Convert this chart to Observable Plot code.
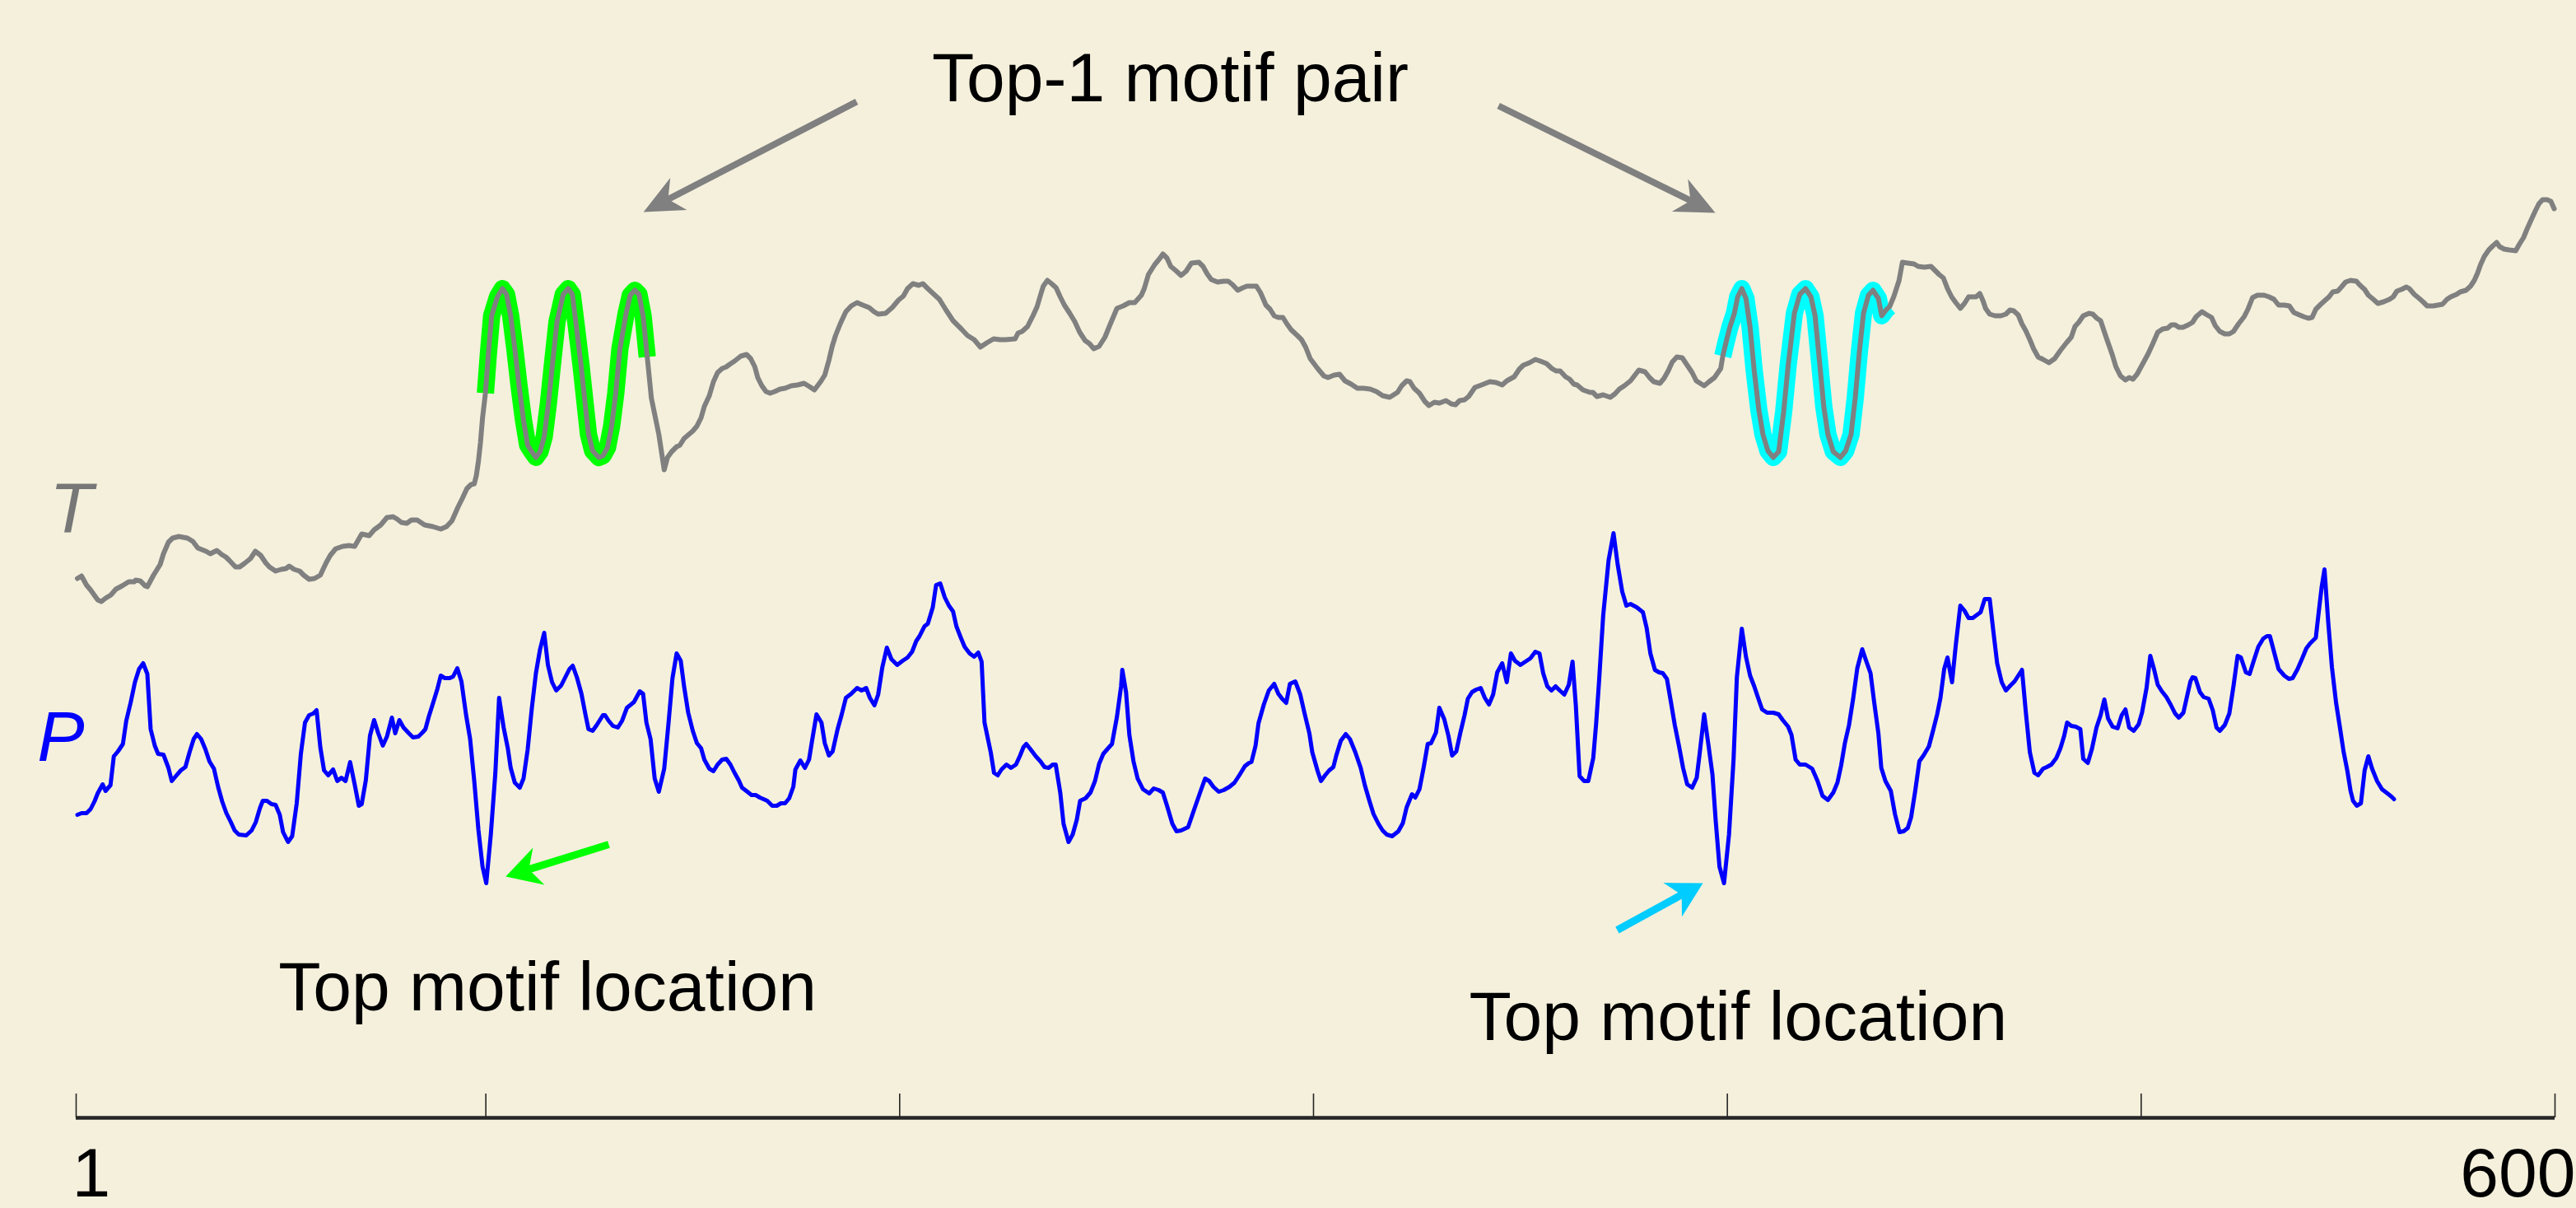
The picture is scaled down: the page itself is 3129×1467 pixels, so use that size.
<!DOCTYPE html>
<html>
<head>
<meta charset="utf-8">
<script src="https://cdn.jsdelivr.net/npm/d3@7"></script>
<script src="https://cdn.jsdelivr.net/npm/@observablehq/plot@0.6"></script>
<style>
  html, body { margin: 0; padding: 0; background: #f4f0dc; overflow: hidden; }
  #chart svg { display: block; }
</style>
</head>
<body>
<div id="chart"></div>
<script>
// ---------- data (index along the series, value) ----------
const tSeries = [
[1.3,6.55],[2.3,6.58],[3.5,6.47],[4.5,6.41],[6.2,6.29],[7.1,6.27],[8.1,6.31],[9.4,6.35],[10.6,6.42],[12.1,6.46],
[13.7,6.51],[15.0,6.51],[15.4,6.53],[16.5,6.52],[17.7,6.46],[18.2,6.45],[19.7,6.59],[21.3,6.72],[22.1,6.85],[23.3,6.99],
[24.3,7.04],[25.8,7.06],[27.9,7.04],[29.2,7.00],[30.4,6.92],[32.4,6.88],[33.4,6.85],[35.0,6.89],[36.2,6.84],[37.2,6.81],
[38.0,6.77],[39.5,6.69],[40.5,6.69],[41.6,6.73],[43.1,6.79],[44.3,6.88],[45.6,6.83],[46.8,6.74],[47.7,6.69],[49.2,6.64],
[50.5,6.66],[51.7,6.67],[52.5,6.70],[53.7,6.66],[55.0,6.64],[56.0,6.59],[57.3,6.54],[58.6,6.55],[60.0,6.59],[61.4,6.74],
[62.4,6.83],[63.7,6.91],[65.4,6.94],[66.9,6.95],[68.3,6.94],[70.0,7.09],[71.8,7.07],[73.0,7.14],[74.6,7.20],[76.1,7.29],
[77.6,7.30],[78.6,7.27],[79.6,7.23],[80.9,7.22],[82.0,7.26],[83.4,7.26],[85.2,7.20],[87.2,7.18],[89.1,7.15],[90.5,7.18],
[91.8,7.25],[93.3,7.42],[94.3,7.52],[95.4,7.64],[96.4,7.69],[97.2,7.70],[97.7,7.80],[98.2,7.97],[98.7,8.20],[99.2,8.50],
[99.9,8.80],[100.6,9.27],[101.4,9.74],[102.8,9.97],[104.0,10.07],[105.0,10.00],[106.0,9.74],[107.0,9.34],[108.0,8.90],[109.1,8.47],
[110.1,8.17],[111.1,8.09],[112.1,8.02],[113.1,8.09],[114.1,8.27],[115.1,8.67],[116.2,9.20],[117.2,9.67],[118.7,10.00],[119.9,10.07],
[120.9,10.00],[121.9,9.60],[123.0,9.14],[124.0,8.67],[124.8,8.30],[125.8,8.10],[127.3,8.02],[128.3,8.04],[129.4,8.14],[130.4,8.40],
[131.4,8.80],[132.4,9.34],[133.9,9.77],[134.9,9.99],[136.0,10.05],[137.0,10.00],[138.0,9.74],[139.0,9.24],[140.0,8.74],[141.8,8.30],
[143.1,7.87],[143.9,8.02],[144.9,8.09],[146.1,8.15],[146.9,8.17],[147.9,8.25],[150.0,8.34],[151.0,8.40],[152.0,8.50],[152.8,8.64],
[154.0,8.77],[155.0,8.94],[156.0,9.05],[157.1,9.10],[158.1,9.12],[158.9,9.15],[160.1,9.19],[161.6,9.25],[163.0,9.27],[164.0,9.22],
[165.0,9.12],[165.7,8.99],[166.7,8.89],[167.7,8.82],[168.7,8.80],[169.8,8.82],[171.1,8.85],[172.3,8.86],[173.8,8.89],[175.3,8.90],
[176.9,8.92],[178.2,8.88],[179.4,8.84],[180.9,8.94],[181.9,9.02],[182.9,9.20],[183.7,9.37],[184.5,9.50],[185.7,9.65],[187.0,9.79],
[188.3,9.86],[189.7,9.90],[191.1,9.87],[192.6,9.84],[193.8,9.79],[194.8,9.76],[196.6,9.77],[198.2,9.84],[199.7,9.93],[200.9,9.98],
[201.9,10.07],[203.2,10.13],[204.6,10.11],[205.6,10.13],[206.8,10.07],[208.3,10.00],[209.6,9.94],[211.2,9.81],[212.9,9.68],[214.9,9.58],
[216.4,9.50],[218.0,9.45],[219.5,9.36],[221.0,9.41],[222.7,9.46],[224.3,9.45],[225.6,9.45],[227.9,9.46],[228.6,9.53],[229.6,9.55],
[230.9,9.61],[232.2,9.74],[233.2,9.85],[234.2,10.02],[234.7,10.10],[235.7,10.17],[236.7,10.13],[237.8,10.08],[238.8,9.97],[239.8,9.87],
[241.1,9.77],[242.3,9.67],[243.5,9.54],[244.8,9.44],[245.9,9.40],[246.9,9.34],[248.2,9.37],[249.6,9.48],[250.9,9.64],[252.5,9.83],
[254.0,9.86],[255.5,9.90],[256.8,9.90],[258.4,9.99],[259.1,10.07],[260.1,10.24],[261.6,10.36],[262.9,10.44],[263.6,10.49],[264.6,10.44],
[265.5,10.34],[266.7,10.29],[268.0,10.23],[269.2,10.28],[270.5,10.38],[272.3,10.39],[273.3,10.34],[274.3,10.25],[275.3,10.18],[276.8,10.15],
[278.3,10.16],[279.4,10.16],[280.4,10.12],[281.7,10.05],[282.9,10.08],[283.9,10.10],[285.1,10.10],[286.2,10.10],[287.2,10.02],[288.5,9.87],
[289.5,9.82],[290.5,9.74],[291.5,9.72],[292.6,9.72],[293.6,9.64],[294.6,9.57],[296.1,9.50],[297.1,9.45],[298.1,9.36],[299.2,9.22],
[301.0,9.10],[302.5,9.01],[303.5,8.99],[305.0,9.02],[306.3,9.03],[307.6,8.95],[309.1,8.91],[310.6,8.86],[312.1,8.86],[313.7,8.85],
[315.2,8.82],[316.7,8.77],[318.4,8.75],[320.3,8.81],[321.3,8.89],[322.5,8.95],[323.3,8.94],[324.3,8.86],[325.6,8.80],[326.9,8.70],
[327.9,8.65],[329.2,8.69],[330.4,8.68],[332.0,8.71],[333.3,8.67],[334.3,8.66],[335.3,8.71],[336.5,8.72],[337.5,8.76],[339.0,8.87],
[340.6,8.90],[342.6,8.94],[344.1,8.93],[345.6,8.90],[346.7,8.95],[348.5,9.00],[349.7,9.09],[350.7,9.14],[352.2,9.17],[353.6,9.21],
[354.8,9.19],[356.3,9.16],[357.6,9.10],[358.6,9.07],[359.6,9.07],[360.9,9.00],[361.9,8.97],[362.9,8.91],[363.7,8.90],[365.1,8.84],
[366.8,8.81],[367.5,8.81],[368.5,8.76],[370.0,8.78],[371.7,8.75],[372.8,8.79],[373.9,8.85],[375.1,8.89],[376.6,8.95],[378.6,9.08],
[380.1,9.06],[381.2,8.99],[382.2,8.94],[383.7,8.92],[384.7,8.98],[385.7,9.07],[386.7,9.18],[387.8,9.24],[389.1,9.23],[390.3,9.14],
[391.5,9.05],[392.5,8.95],[394.4,8.89],[395.6,8.94],[396.9,8.99],[398.4,9.10],[398.9,9.25],[399.6,9.40],[400.6,9.60],[401.7,9.77],
[402.5,9.97],[403.5,10.07],[404.5,9.95],[405.5,9.60],[406.5,9.07],[407.6,8.60],[408.6,8.30],[409.8,8.10],[411.1,8.02],[412.4,8.09],
[413.6,8.57],[414.7,9.14],[416.2,9.77],[417.5,10.00],[418.9,10.07],[420.2,9.97],[421.2,9.74],[422.3,9.17],[423.3,8.64],[424.3,8.30],
[425.6,8.09],[427.3,8.02],[428.6,8.10],[429.9,8.30],[430.9,8.74],[431.9,9.30],[432.9,9.77],[434.1,9.99],[435.2,10.05],[436.5,9.95],
[437.3,9.74],[438.5,9.82],[439.2,9.85],[440.2,9.97],[441.5,10.17],[442.3,10.39],[443.6,10.38],[445.1,10.37],[446.1,10.34],[447.6,10.33],
[449.2,10.34],[450.2,10.29],[451.2,10.24],[452.2,10.20],[453.2,10.07],[454.2,9.97],[455.2,9.90],[456.3,9.83],[457.3,9.89],[458.3,9.97],
[460.1,9.97],[461.0,10.01],[461.8,9.92],[462.4,9.83],[463.4,9.76],[464.7,9.74],[466.1,9.74],[467.3,9.76],[468.3,9.81],[469.2,9.80],
[470.3,9.75],[471.2,9.64],[472.1,9.56],[473.1,9.45],[474.0,9.34],[475.1,9.24],[476.3,9.21],[477.7,9.17],[479.1,9.22],[480.5,9.32],
[481.9,9.41],[483.1,9.48],[484.0,9.61],[484.9,9.66],[486.0,9.74],[487.4,9.77],[488.3,9.76],[489.3,9.71],[490.2,9.68],[491.6,9.47],
[493.0,9.27],[493.9,9.12],[495.0,9.01],[496.2,8.96],[497.1,8.99],[498.0,8.97],[499.0,9.03],[500.3,9.15],[501.7,9.28],[502.8,9.40],
[504.0,9.54],[505.2,9.58],[506.4,9.59],[507.3,9.63],[508.2,9.63],[509.1,9.60],[510.1,9.60],[511.4,9.63],[512.4,9.66],[513.3,9.73],
[514.7,9.79],[515.6,9.76],[517.0,9.72],[517.9,9.62],[519.0,9.55],[520.2,9.52],[521.3,9.52],[522.3,9.55],[523.5,9.64],[524.9,9.73],
[525.8,9.82],[526.9,9.96],[528.1,9.99],[529.7,9.99],[530.9,9.97],[532.1,9.94],[533.2,9.87],[534.6,9.87],[535.8,9.86],[536.9,9.78],
[537.8,9.76],[539.2,9.73],[540.4,9.71],[541.3,9.72],[542.2,9.82],[543.4,9.88],[544.5,9.93],[545.4,9.97],[546.3,10.03],[547.5,10.04],
[548.4,10.09],[549.4,10.15],[550.6,10.17],[552.0,10.16],[552.9,10.11],[554.0,10.06],[554.9,9.99],[556.1,9.94],[557.2,9.89],[558.6,9.91],
[560.0,9.94],[560.9,9.97],[561.8,10.04],[562.9,10.06],[564.1,10.09],[564.8,10.07],[566.0,10.00],[567.2,9.95],[568.1,9.91],[569.1,9.86],
[570.6,9.86],[572.8,9.88],[573.9,9.94],[574.8,9.97],[576.2,10.00],[577.1,10.03],[578.5,10.05],[579.6,10.10],[580.5,10.17],[581.3,10.26],
[582.0,10.36],[582.9,10.46],[584.0,10.54],[585.0,10.59],[585.9,10.63],[586.6,10.58],[587.7,10.55],[588.9,10.54],[590.5,10.53],[591.4,10.61],
[592.4,10.69],[593.3,10.80],[594.2,10.90],[595.3,11.02],[596.1,11.10],[597.0,11.15],[598.1,11.15],[599.0,11.13],[599.8,11.04]
];

const pSeries = [
[1.3,3.68],[2.3,3.70],[3.5,3.70],[4.5,3.75],[5.5,3.85],[6.2,3.94],[7.4,4.05],[8.1,3.97],[9.3,4.04],[10.1,4.39],
[11.1,4.45],[12.3,4.54],[13.1,4.82],[14.2,5.05],[15.2,5.29],[16.2,5.45],[17.2,5.52],[18.2,5.39],[19.0,4.72],[20.0,4.52],
[20.8,4.42],[22.1,4.41],[23.3,4.25],[24.1,4.09],[25.1,4.15],[26.3,4.22],[27.4,4.26],[28.4,4.44],[29.4,4.60],[30.2,4.66],
[31.2,4.60],[32.2,4.48],[33.2,4.33],[34.3,4.24],[35.3,4.02],[36.3,3.84],[37.3,3.70],[38.3,3.60],[39.3,3.49],[40.3,3.44],
[42.1,3.43],[43.4,3.49],[44.4,3.59],[45.4,3.76],[46.1,3.85],[47.1,3.85],[48.2,3.81],[49.2,3.80],[50.2,3.68],[51.0,3.47],
[52.2,3.35],[53.2,3.42],[54.3,3.82],[55.3,4.42],[56.3,4.80],[57.3,4.89],[58.3,4.91],[59.1,4.95],[60.0,4.50],[60.9,4.22],
[61.9,4.16],[63.1,4.23],[64.1,4.09],[65.1,4.13],[66.1,4.09],[67.2,4.32],[68.3,4.05],[69.3,3.79],[70.0,3.81],[71.0,4.10],
[72.0,4.64],[73.0,4.83],[74.0,4.67],[75.1,4.52],[76.1,4.63],[77.3,4.86],[78.1,4.67],[79.1,4.83],[80.1,4.74],[81.4,4.67],
[82.4,4.62],[83.7,4.63],[84.7,4.68],[85.4,4.72],[86.2,4.87],[87.2,5.03],[88.3,5.21],[89.1,5.37],[90.1,5.34],[91.3,5.34],
[92.1,5.36],[93.1,5.46],[94.1,5.30],[95.2,4.90],[96.2,4.60],[97.2,4.09],[98.2,3.50],[99.2,3.05],[100.1,2.85],[101.2,3.44],
[102.3,4.19],[103.2,5.10],[104.3,4.74],[105.3,4.49],[106.0,4.25],[107.0,4.07],[108.2,4.01],[109.1,4.12],[110.1,4.47],[111.1,4.97],
[112.1,5.40],[113.1,5.69],[114.1,5.89],[115.0,5.50],[116.0,5.29],[117.0,5.19],[118.2,5.25],[119.2,5.35],[120.2,5.45],[121.0,5.49],
[122.0,5.35],[123.1,5.15],[124.1,4.89],[124.8,4.72],[125.8,4.70],[126.8,4.77],[128.3,4.89],[128.8,4.89],[129.7,4.82],[130.7,4.76],
[131.9,4.74],[132.9,4.82],[134.1,4.98],[135.8,5.05],[137.2,5.18],[138.0,5.15],[138.8,4.80],[139.8,4.60],[140.8,4.12],[141.8,3.96],
[143.1,4.24],[144.1,4.77],[145.1,5.34],[146.1,5.64],[147.1,5.55],[147.9,5.24],[148.9,4.92],[150.0,4.70],[151.0,4.55],[152.0,4.49],
[152.8,4.35],[154.0,4.24],[155.0,4.21],[156.0,4.29],[157.1,4.35],[158.1,4.36],[159.1,4.29],[160.1,4.19],[161.1,4.10],[161.9,4.01],
[163.2,3.96],[164.2,3.92],[165.2,3.92],[166.2,3.89],[168.0,3.85],[169.2,3.79],[170.3,3.79],[171.3,3.82],[172.3,3.82],[173.3,3.88],
[174.3,4.02],[174.8,4.23],[176.0,4.34],[177.1,4.25],[178.1,4.35],[178.9,4.60],[179.9,4.90],[181.1,4.80],[181.9,4.55],[182.9,4.40],
[183.8,4.45],[185.0,4.72],[186.0,4.90],[187.0,5.10],[188.3,5.15],[189.7,5.22],[190.8,5.19],[191.9,5.22],[192.8,5.10],[193.9,5.01],
[194.8,5.14],[195.8,5.47],[196.9,5.71],[198.0,5.57],[199.4,5.50],[200.7,5.55],[201.9,5.59],[203.0,5.66],[204.0,5.79],[204.8,5.85],
[206.0,5.97],[206.8,6.00],[208.0,6.20],[208.8,6.47],[209.8,6.49],[210.9,6.32],[211.9,6.22],[212.9,6.15],[213.7,5.97],[214.7,5.84],
[215.7,5.72],[216.9,5.64],[218.0,5.60],[219.0,5.65],[219.8,5.54],[220.5,4.80],[222.0,4.44],[222.8,4.19],[223.7,4.16],[224.6,4.23],
[225.8,4.29],[226.9,4.25],[228.1,4.29],[229.1,4.40],[229.9,4.50],[230.6,4.54],[231.7,4.47],[232.9,4.39],[234.0,4.33],[235.0,4.26],
[236.0,4.25],[237.0,4.29],[237.7,4.29],[238.8,3.95],[239.6,3.57],[240.8,3.35],[241.8,3.44],[242.8,3.62],[243.6,3.85],[244.9,3.88],
[246.1,3.95],[247.2,4.09],[248.2,4.30],[249.2,4.42],[250.4,4.49],[251.3,4.54],[252.5,4.87],[253.5,5.24],[253.8,5.44],[254.7,5.17],
[255.5,4.65],[256.5,4.33],[257.5,4.12],[258.8,3.99],[260.3,3.94],[261.4,4.00],[262.6,3.98],[263.6,3.95],[264.6,3.79],[265.9,3.57],
[266.9,3.48],[268.0,3.49],[269.7,3.53],[271.2,3.75],[272.8,3.98],[273.8,4.12],[274.8,4.09],[275.8,4.02],[277.1,3.96],[278.3,3.98],
[279.7,4.02],[280.9,4.07],[282.2,4.17],[283.4,4.27],[284.4,4.31],[285.0,4.32],[286.0,4.52],[286.7,4.79],[288.0,5.02],[289.2,5.19],
[290.5,5.27],[291.5,5.15],[292.4,5.09],[293.4,5.04],[294.3,5.27],[295.6,5.30],[296.8,5.14],[297.8,4.92],[299.0,4.67],[299.7,4.44],
[301.0,4.21],[301.8,4.09],[302.8,4.16],[303.8,4.22],[304.8,4.26],[305.5,4.40],[306.6,4.58],[307.8,4.66],[308.8,4.60],[310.1,4.44],
[311.4,4.25],[312.4,4.04],[313.5,3.85],[314.5,3.69],[315.7,3.57],[316.7,3.49],[317.7,3.44],[319.0,3.42],[320.5,3.48],[321.6,3.58],
[322.5,3.77],[323.8,3.93],[324.6,3.89],[325.6,3.99],[326.6,4.25],[327.6,4.54],[328.4,4.55],[329.6,4.68],[330.4,4.98],[331.6,4.84],
[332.6,4.64],[333.5,4.40],[334.5,4.45],[335.5,4.68],[336.5,4.89],[337.3,5.09],[338.3,5.17],[339.3,5.20],[340.4,5.22],[341.4,5.10],
[342.4,5.02],[343.4,5.14],[344.4,5.41],[345.6,5.52],[346.7,5.29],[347.7,5.64],[348.7,5.55],[350.0,5.50],[351.2,5.54],[352.4,5.58],
[353.6,5.66],[354.6,5.64],[355.5,5.40],[356.5,5.24],[357.5,5.19],[358.5,5.24],[359.5,5.19],[360.6,5.14],[361.7,5.26],[362.6,5.54],
[363.4,5.00],[364.3,4.15],[365.4,4.09],[366.4,4.09],[367.6,4.37],[368.3,4.79],[369.0,5.30],[370.0,6.10],[371.3,6.77],[372.5,7.10],
[373.5,6.72],[374.6,6.39],[375.6,6.22],[376.6,6.24],[378.1,6.20],[379.6,6.14],[380.5,5.95],[381.4,5.64],[382.5,5.44],[383.5,5.41],
[384.4,5.40],[385.4,5.33],[386.4,5.04],[387.3,4.77],[388.3,4.52],[389.3,4.25],[390.3,4.05],[391.5,4.01],[392.6,4.13],[393.3,4.42],
[394.4,4.90],[395.4,4.54],[396.4,4.17],[397.2,3.60],[398.1,3.05],[399.2,2.85],[400.4,3.44],[401.5,4.35],[402.3,5.35],[403.5,5.94],
[404.5,5.60],[405.5,5.37],[406.5,5.24],[407.3,5.12],[408.4,4.96],[409.6,4.92],[411.1,4.92],[412.4,4.90],[413.4,4.83],[414.7,4.75],
[415.5,4.65],[416.5,4.35],[417.5,4.29],[418.9,4.29],[420.5,4.24],[421.8,4.09],[423.0,3.91],[424.3,3.86],[425.6,3.95],[426.6,4.07],
[427.5,4.28],[428.4,4.55],[429.4,4.77],[430.4,5.09],[431.4,5.46],[432.6,5.69],[433.4,5.57],[434.6,5.40],[435.5,5.04],[436.5,4.67],
[437.2,4.25],[438.2,4.09],[439.5,3.97],[440.5,3.69],[441.6,3.47],[442.6,3.48],[443.6,3.52],[444.4,3.65],[445.4,3.97],[446.4,4.33],
[447.4,4.40],[448.7,4.51],[449.7,4.70],[450.7,4.90],[451.5,5.10],[452.4,5.45],[453.2,5.59],[454.3,5.29],[455.2,5.74],[456.3,6.22],
[457.3,6.16],[458.3,6.07],[459.3,6.07],[460.1,6.10],[461.2,6.14],[462.2,6.30],[463.4,6.30],[464.3,5.90],[465.2,5.52],[466.3,5.29],
[467.3,5.19],[468.4,5.25],[469.4,5.30],[470.3,5.37],[471.2,5.44],[472.1,4.94],[473.1,4.44],[474.2,4.19],[475.1,4.16],[476.3,4.24],
[477.2,4.26],[478.3,4.29],[479.5,4.37],[480.5,4.49],[481.4,4.64],[482.1,4.80],[483.1,4.76],[484.2,4.75],[485.3,4.72],[486.0,4.36],
[487.1,4.31],[488.1,4.48],[489.2,4.74],[490.2,4.89],[491.1,5.08],[492.0,4.85],[493.1,4.75],[494.3,4.73],[495.3,4.89],[496.2,4.96],
[497.1,4.74],[498.2,4.70],[499.4,4.78],[500.2,4.92],[501.3,5.22],[502.2,5.61],[503.1,5.45],[504.0,5.26],[505.0,5.18],[506.1,5.11],
[507.1,5.02],[508.2,4.91],[509.1,4.86],[510.2,4.92],[511.0,5.10],[511.9,5.30],[512.4,5.35],[513.1,5.34],[514.2,5.17],[515.1,5.11],
[516.3,5.09],[517.3,4.95],[518.2,4.74],[519.0,4.70],[520.2,4.77],[521.3,4.91],[522.3,5.24],[523.3,5.61],[524.1,5.59],[525.3,5.41],
[526.2,5.39],[527.2,5.55],[528.3,5.72],[529.5,5.82],[530.4,5.85],[531.1,5.85],[532.1,5.66],[533.2,5.45],[534.6,5.37],[535.7,5.33],
[536.6,5.34],[537.8,5.45],[539.0,5.59],[539.9,5.70],[540.8,5.76],[542.2,5.83],[542.9,6.14],[543.6,6.44],[544.3,6.66],[545.2,6.02],
[546.1,5.47],[547.1,5.04],[548.0,4.75],[548.9,4.45],[549.8,4.22],[550.6,3.97],[551.2,3.85],[552.1,3.79],[553.1,3.82],[554.0,4.22],
[554.9,4.39],[555.8,4.24],[557.0,4.09],[558.2,3.99],[559.5,3.94],[560.5,3.90],[561.1,3.87]
];

// top-1 motif pair: index ranges on T
const motifStart = [99.9, 398.9];
const motifEnd   = [139.0, 439.2];
const motifColors = ["#00ff00", "#00ffff"];

// axis
const xTicks = [1, 100, 200, 300, 400, 500, 600];
const xTickLabels = ["1", "600"];
const xTickLabelAt = [1, 600];

// annotation arrows (from tail to tip, in index/value units)
const arrows = [
  {x1: 189.6, y1: 12.34, x2: 138.1, y2: 11.00, color: "#808080", width: 8, head: 48, half: 22},
  {x1: 344.7, y1: 12.29, x2: 397.1, y2: 10.99, color: "#808080", width: 8, head: 48, half: 22},
  {x1: 129.7, y1: 3.32,  x2: 104.8, y2: 2.93,  color: "#00ff00", width: 9, head: 42, half: 23.5},
  {x1: 373.4, y1: 2.28,  x2: 394.1, y2: 2.85,  color: "#00ccff", width: 9, head: 42, half: 23.5}
];

// ---------- chart ----------
const W = 3129, H = 1467;
const xDomain = [1, 600], xRange = [92, 3103];
const yDomain = [0, 13.57], yRange = [1357, 0];
const FONT = "'Liberation Sans', Arial, Helvetica, sans-serif";

const T = tSeries.map(([i, v]) => ({i, v}));
const P = pSeries.map(([i, v]) => ({i, v}));
const motifs = motifStart.map((s, k) => ({
  color: motifColors[k],
  pts: T.filter(d => d.i >= s - 1e-6 && d.i <= motifEnd[k] + 1e-6)
}));

const X = Plot.scale({x: {domain: xDomain, range: xRange}});
const Y = Plot.scale({y: {domain: yDomain, range: yRange}});

function arrowMarks(a) {
  const px1 = X.apply(a.x1), py1 = Y.apply(a.y1), px2 = X.apply(a.x2), py2 = Y.apply(a.y2);
  const ang = Math.atan2(py2 - py1, px2 - px1);
  const c = Math.cos(ang), s = Math.sin(ang);
  const L = a.head, hw = a.half, N = 0.7 * L;
  const rot = ([u, w]) => [u * c - w * s, u * s + w * c];
  const shape = [[0, 0], [-L, -hw], [-N, 0], [-L, hw]].map(rot);
  const symbol = {
    draw(ctx) {
      ctx.moveTo(shape[0][0], shape[0][1]);
      for (let k = 1; k < shape.length; ++k) ctx.lineTo(shape[k][0], shape[k][1]);
      ctx.closePath();
    }
  };
  const ex = px2 - (N - 2) * c, ey = py2 - (N - 2) * s;
  const shaft = [{x1: a.x1, y1: a.y1, x2: X.invert(ex), y2: Y.invert(ey)}];
  return [
    Plot.link(shaft, {x1: "x1", y1: "y1", x2: "x2", y2: "y2", stroke: a.color, strokeWidth: a.width, strokeLinecap: "butt"}),
    Plot.dot([a], {x: "x2", y: "y2", symbol, r: 10, fill: a.color, stroke: "none"})
  ];
}

const textStyle = {fontFamily: FONT, fontSize: 84, fill: "#000", lineAnchor: "bottom"};

const chart = Plot.plot({
  width: W,
  height: H,
  marginTop: 0, marginRight: 0, marginBottom: 0, marginLeft: 0,
  style: {background: "#f4f0dc", fontFamily: FONT, overflow: "visible"},
  x: {domain: xDomain, range: xRange, axis: null},
  y: {domain: yDomain, range: yRange, axis: null},
  marks: [
    // axis
    Plot.ruleY([0], {x1: 1, x2: 600, stroke: "#262626", strokeWidth: 4.5}),
    Plot.ruleX(xTicks, {x: d => d, y1: 0, y2: 0.29, stroke: "#262626", strokeWidth: 1.6}),
    Plot.text([xTickLabels[0]], {x: xTickLabelAt[0], y: -0.95, text: d => d,
      textAnchor: "start", dx: -5, ...textStyle}),
    Plot.text([xTickLabels[1]], {x: xTickLabelAt[1], y: -0.95, text: d => d,
      textAnchor: "end", dx: 25, ...textStyle}),

    // motif highlights
    ...motifs.map(m => Plot.line(m.pts, {x: "i", y: "v", stroke: m.color, strokeWidth: 21,
      strokeLinecap: "butt", strokeLinejoin: "round"})),

    // series
    Plot.line(T, {x: "i", y: "v", stroke: "#808080", strokeWidth: 6}),
    Plot.line(P, {x: "i", y: "v", stroke: "#0000ff", strokeWidth: 5}),

    // series labels
    Plot.text(["T"], {x: -5.4, y: 7.12, text: d => d, textAnchor: "start", ...textStyle, fontSize: 86, fill: "#777777", fontStyle: "italic"}),
    Plot.text(["P"], {x: -8.4, y: 4.34, text: d => d, textAnchor: "start", ...textStyle, fontSize: 86, fill: "#0000ff", fontStyle: "italic"}),

    // annotations
    Plot.text(["Top-1 motif pair"], {x: 265.4, y: 12.35, text: d => d, textAnchor: "middle", ...textStyle}),
    Plot.text(["Top motif location"], {x: 49.9, y: 1.31, text: d => d, textAnchor: "start", ...textStyle}),
    Plot.text(["Top motif location"], {x: 337.6, y: 0.95, text: d => d, textAnchor: "start", ...textStyle}),

    ...arrows.flatMap(arrowMarks)
  ]
});

document.getElementById("chart").appendChild(chart);
</script>
</body>
</html>
